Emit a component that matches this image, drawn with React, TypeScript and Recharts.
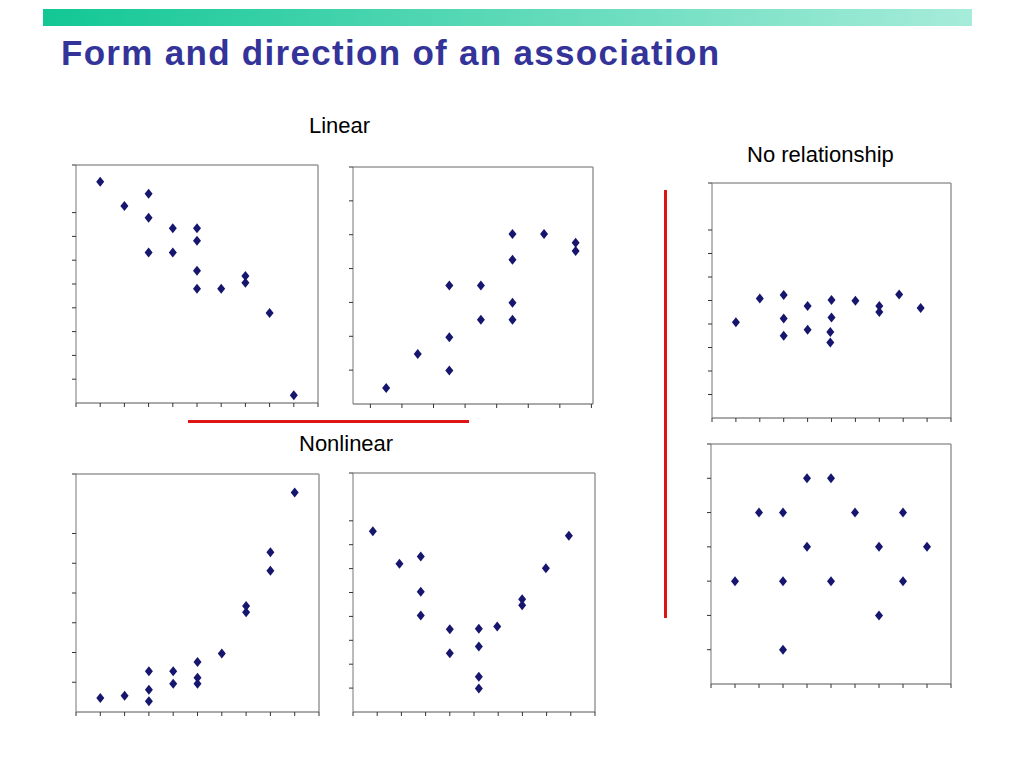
import React from 'react';
import {
  ScatterChart,
  Scatter,
  XAxis,
  YAxis,
  ReferenceLine
} from 'recharts';

// Linear, negative direction (top left)
const linearDown = [
  { x: 1, y: 9.3 }, { x: 2, y: 8.28 }, { x: 3, y: 8.79 }, { x: 3, y: 7.78 },
  { x: 3, y: 6.32 }, { x: 4, y: 7.34 }, { x: 4, y: 6.32 }, { x: 5, y: 7.34 },
  { x: 5, y: 6.82 }, { x: 5, y: 5.56 }, { x: 5, y: 4.8 }, { x: 6, y: 4.8 },
  { x: 7, y: 5.34 }, { x: 7, y: 5.05 }, { x: 8, y: 3.78 }, { x: 9, y: 0.33 }
];

// Linear, positive direction (top middle)
const linearUp = [
  { x: 1, y: 0.47 }, { x: 2, y: 1.48 }, { x: 3, y: 3.5 }, { x: 3, y: 1.97 },
  { x: 3, y: 0.99 }, { x: 4, y: 3.5 }, { x: 4, y: 2.49 }, { x: 5, y: 5.02 },
  { x: 5, y: 4.26 }, { x: 5, y: 2.99 }, { x: 5, y: 2.49 }, { x: 6, y: 5.02 },
  { x: 7, y: 4.76 }, { x: 7, y: 4.52 }
];

// Nonlinear, exponential-like (bottom left)
const curveUp = [
  { x: 1, y: 0.47 }, { x: 2, y: 0.55 }, { x: 3, y: 1.37 }, { x: 3, y: 0.75 },
  { x: 3, y: 0.36 }, { x: 4, y: 1.37 }, { x: 4, y: 0.95 }, { x: 5, y: 1.68 },
  { x: 5, y: 1.15 }, { x: 5, y: 0.95 }, { x: 6, y: 1.97 }, { x: 7, y: 3.56 },
  { x: 7, y: 3.35 }, { x: 8, y: 5.37 }, { x: 8, y: 4.75 }, { x: 9, y: 7.38 }
];

// Nonlinear, V shape (bottom middle)
const curveV = [
  { x: 0.82, y: 7.56 }, { x: 1.92, y: 6.2 }, { x: 2.8, y: 6.51 }, { x: 2.8, y: 5.03 },
  { x: 2.8, y: 4.04 }, { x: 4.0, y: 3.46 }, { x: 4.0, y: 2.46 }, { x: 5.2, y: 3.48 },
  { x: 5.2, y: 2.74 }, { x: 5.2, y: 1.48 }, { x: 5.2, y: 0.98 }, { x: 5.96, y: 3.58 },
  { x: 6.99, y: 4.72 }, { x: 6.99, y: 4.47 }, { x: 7.97, y: 6.01 }, { x: 8.92, y: 7.37 }
];

// No relationship (right top)
const flatCloud = [
  { x: 1, y: 4.07 }, { x: 2, y: 5.08 }, { x: 3, y: 5.23 }, { x: 3, y: 4.23 },
  { x: 3, y: 3.5 }, { x: 4, y: 4.77 }, { x: 4, y: 3.76 }, { x: 5, y: 5.02 },
  { x: 5, y: 4.28 }, { x: 4.95, y: 3.66 }, { x: 4.95, y: 3.21 }, { x: 6, y: 4.99 },
  { x: 7, y: 4.77 }, { x: 7, y: 4.51 }, { x: 7.83, y: 5.26 }, { x: 8.73, y: 4.68 }
];

// No relationship (right bottom)
const scatterCloud = [
  { x: 1, y: 3 }, { x: 2, y: 5 }, { x: 3, y: 5 }, { x: 3, y: 3 }, { x: 3, y: 1 },
  { x: 4, y: 6 }, { x: 4, y: 4 }, { x: 5, y: 6 }, { x: 5, y: 3 }, { x: 6, y: 5 },
  { x: 7, y: 4 }, { x: 7, y: 2 }, { x: 8, y: 5 }, { x: 8, y: 3 }, { x: 9, y: 4 }
];

const ticks0to10 = [0, 1, 2, 3, 4, 5, 6, 7, 8, 9, 10];
const ticks0to8 = [0, 1, 2, 3, 4, 5, 6, 7, 8];
const ticks0to7 = [0, 1, 2, 3, 4, 5, 6, 7];
const halfTicks = [0.5, 1.5, 2.5, 3.5, 4.5, 5.5, 6.5, 7.5];

const MARKER = '#16166e';

const Diamond = (props: any) => {
  const { cx, cy } = props;
  if (cx == null || cy == null) return null;
  return (
    <polygon
      points={`${cx},${cy - 5} ${cx + 4},${cy} ${cx},${cy + 5} ${cx - 4},${cy}`}
      fill={MARKER}
    />
  );
};

// no tick labels on these slides, only the small marks
const NoLabel = () => <g />;

interface PanelProps {
  data: { x: number; y: number }[];
  left: number;
  top: number;
  w: number;
  h: number;
  xDomain: [number, number];
  yDomain: [number, number];
  xTicks: number[];
  yTicks: number[];
}

// left/top/w/h describe the plot area; the svg gets a few px extra for ticks
const Panel: React.FC<PanelProps> = ({ data, left, top, w, h, xDomain, yDomain, xTicks, yTicks }) => (
  <div style={{ position: 'absolute', left: left - 6, top: top - 2 }}>
    <ScatterChart width={w + 8} height={h + 8} margin={{ top: 2, right: 2, left: 0, bottom: 0 }}>
      <XAxis
        type="number"
        dataKey="x"
        domain={xDomain}
        ticks={xTicks}
        allowDataOverflow
        height={6}
        tick={NoLabel}
        tickSize={4}
        stroke="#555"
        tickLine={{ stroke: '#333' }}
      />
      <YAxis
        type="number"
        dataKey="y"
        domain={yDomain}
        ticks={yTicks}
        allowDataOverflow
        width={6}
        tick={NoLabel}
        tickSize={4}
        stroke="#777"
        tickLine={{ stroke: '#333' }}
      />
      <ReferenceLine y={yDomain[1]} stroke="#999" strokeWidth={1.5} />
      <ReferenceLine x={xDomain[1]} stroke="#999" strokeWidth={1.5} />
      <Scatter data={data} shape={<Diamond />} isAnimationActive={false} />
    </ScatterChart>
  </div>
);

const labelStyle: React.CSSProperties = {
  position: 'absolute',
  fontSize: 22,
  lineHeight: '22px',
  color: '#000',
  whiteSpace: 'nowrap'
};

const App: React.FC = () => (
  <div
    style={{
      position: 'absolute',
      left: 0,
      top: 0,
      width: 1024,
      height: 768,
      background: '#fff',
      fontFamily: '"Liberation Sans", Arial, sans-serif',
      overflow: 'hidden'
    }}
  >
    <div
      style={{
        position: 'absolute',
        left: 43,
        top: 9,
        width: 929,
        height: 17,
        background: 'linear-gradient(to right, #12c795, #a6ecda)'
      }}
    />
    <div
      style={{
        position: 'absolute',
        left: 61,
        top: 35,
        fontSize: 35,
        lineHeight: '35px',
        fontWeight: 'bold',
        letterSpacing: 1.3,
        color: '#333399',
        whiteSpace: 'nowrap'
      }}
    >
      Form and direction of an association
    </div>

    <div style={{ ...labelStyle, left: 309, top: 115 }}>Linear</div>
    <div style={{ ...labelStyle, left: 747, top: 144 }}>No relationship</div>
    <div style={{ ...labelStyle, left: 299, top: 433 }}>Nonlinear</div>

    <div style={{ position: 'absolute', left: 188, top: 420, width: 281, height: 3, background: '#dd1515' }} />
    <div style={{ position: 'absolute', left: 664, top: 190, width: 3, height: 428, background: '#dd1515' }} />

    <Panel data={linearDown} left={76} top={165} w={242} h={238}
      xDomain={[0, 10]} yDomain={[0, 10]} xTicks={ticks0to10} yTicks={ticks0to10} />
    <Panel data={linearUp} left={353} top={167} w={240} h={237}
      xDomain={[-0.05, 7.55]} yDomain={[0, 7]} xTicks={halfTicks} yTicks={ticks0to7} />
    <Panel data={curveUp} left={76} top={474} w={243} h={238}
      xDomain={[0, 10]} yDomain={[0, 8]} xTicks={ticks0to10} yTicks={ticks0to8} />
    <Panel data={curveV} left={353} top={473} w={242} h={239}
      xDomain={[0, 10]} yDomain={[0, 10]} xTicks={ticks0to10} yTicks={ticks0to10} />
    <Panel data={flatCloud} left={712} top={183} w={239} h={235}
      xDomain={[0, 10]} yDomain={[0, 10]} xTicks={ticks0to10} yTicks={ticks0to10} />
    <Panel data={scatterCloud} left={711} top={444} w={240} h={240}
      xDomain={[0, 10]} yDomain={[0, 7]} xTicks={ticks0to10} yTicks={ticks0to7} />
  </div>
);

export default App;
